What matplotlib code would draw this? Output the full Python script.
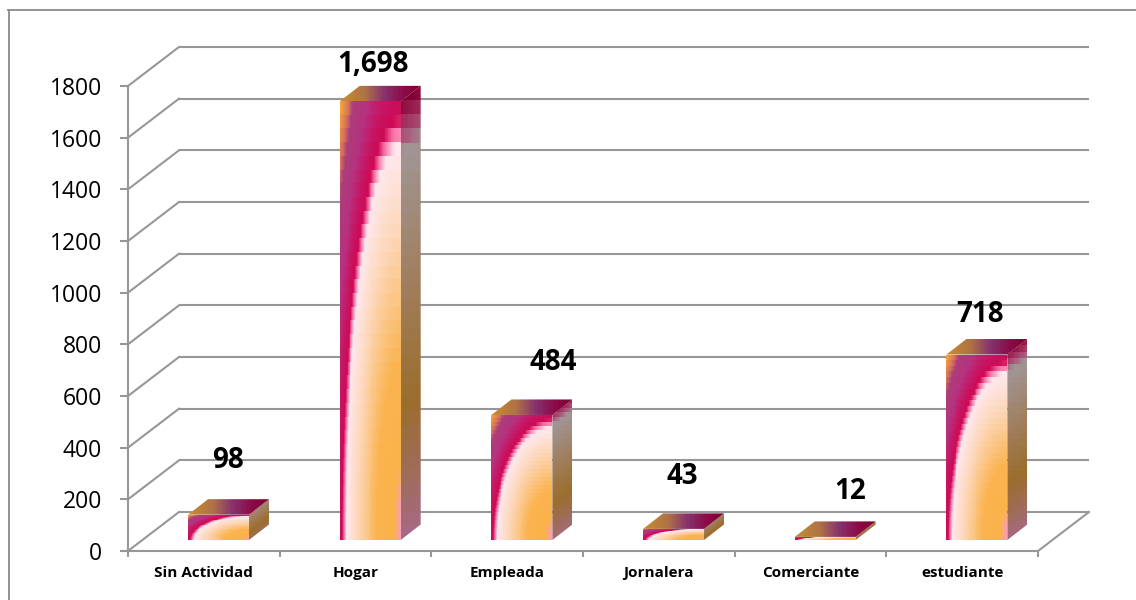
import numpy as np
import matplotlib
matplotlib.use('Agg')
import matplotlib.pyplot as plt
from matplotlib.colors import LinearSegmentedColormap
from matplotlib.lines import Line2D
from matplotlib.patches import Polygon
from matplotlib.transforms import Affine2D, IdentityTransform

categories = ['Sin Actividad', 'Hogar', 'Empleada', 'Jornalera', 'Comerciante', 'estudiante']
values = [98, 1698, 484, 43, 12, 718]
y_ticks = [0, 200, 400, 600, 800, 1000, 1200, 1400, 1600, 1800]

# pixel offsets of the value labels from the front top centre of each bar
label_dx = [9, 3, 31, 9, 25, 3]
label_dy = [54, 37, 52, 52, 45, 40]

FONT = 'Open Sans'
GRID = '#979797'
BAR_W = 0.402
FLOOR = (51, 39)      # depth of the floor in px
BAR_POS = (14.7, 11)  # bar front, in from the axis
BAR_DEPTH = (20, 15.5)
ROWS = 32
PINK = np.array([250, 160, 180]) / 255


def make_cmap(stops):
    return LinearSegmentedColormap.from_list(
        'c', [(p, tuple(c / 255 for c in col)) for p, col in stops], N=512)


front_cmap = make_cmap([(0, (250, 178, 70)), (0.28, (250, 180, 80)), (0.5, (253, 215, 185)),
                        (0.64, (255, 232, 238)), (0.665, (250, 120, 170)), (0.69, (205, 10, 85)),
                        (0.74, (198, 22, 100)), (0.81, (182, 50, 128)), (0.9, (172, 62, 122)),
                        (0.94, (215, 115, 90)), (1, (245, 165, 60))])
side_cmap = make_cmap([(0, (168, 105, 135)), (0.1, (160, 108, 100)), (0.3, (155, 110, 45)),
                       (0.55, (160, 125, 90)), (0.88, (160, 150, 150)), (0.91, (170, 90, 125)),
                       (0.95, (160, 45, 90)), (1, (130, 0, 50))])
top_cmap = make_cmap([(0, (200, 140, 50)), (0.3, (175, 115, 70)), (0.55, (135, 50, 110)),
                      (0.8, (140, 10, 70)), (1, (125, 0, 50))])


def draw_surface(ax, rgb, pts):
    # image over the bounding box of pts (display px), clipped to the polygon
    x0, y0 = pts.min(axis=0)
    x1, y1 = pts.max(axis=0)
    im = ax.imshow(rgb, extent=(x0, x1, y0, y1), transform=IdentityTransform(),
                   aspect='auto', interpolation='nearest', origin='upper', zorder=3)
    im.set_clip_box(None)
    im.set_clip_path(Polygon(pts, closed=True, transform=IdentityTransform()))


def draw_bar(ax, i, value):
    px = ax.transData.transform
    left = px((i + 0.5 - BAR_W / 2, 0)) + BAR_POS
    right = px((i + 0.5 + BAR_W / 2, 0)) + BAR_POS
    top_y = px((0, value))[1] + BAR_POS[1]
    d = np.array(BAR_DEPTH)

    # front: elliptical gradient out of the bottom right corner, in coarse rows
    rows = np.linspace(1, 0, ROWS)[:, None]
    cols = np.linspace(0, 1, ROWS * 2)[None, :]
    r = np.sqrt((1 - cols) ** 2 + rows ** 2) / np.sqrt(2)
    rgb = front_cmap(r)[..., :3]
    # pink glow in the bottom right corner
    glow = np.clip((cols - 0.9) / 0.1, 0, 1) * np.clip((0.15 - rows) / 0.08, 0, 1)
    rgb = rgb * (1 - glow[..., None]) + PINK * glow[..., None]
    bl, br = left, right
    tl, tr = np.array([left[0], top_y]), np.array([right[0], top_y])
    draw_surface(ax, rgb, np.array([bl, br, tr, tl]))

    # side
    box_h = top_y + d[1] - bl[1]
    vmax = 1 if value > 200 else 0.85
    v = np.linspace(1, 0, ROWS)[:, None] * vmax
    u = np.linspace(0, 1, 12)[None, :]
    skew = (u - 0.5) * (d[1] / box_h) * 0.8
    draw_surface(ax, side_cmap(np.clip(v - skew, 0, 1))[..., :3],
                 np.array([br, br + d, tr + d, tr]))

    # top
    t = np.linspace(0, 1, 64)[None, :] * np.ones((8, 1))
    draw_surface(ax, top_cmap(t)[..., :3], np.array([tl, tr, tr + d, tl + d]))


fig = plt.figure(figsize=(11.36, 6), dpi=100, facecolor='white')
ax = fig.add_axes([128 / 1136, 49 / 600, 910 / 1136, 465 / 600])
ax.set_xlim(0, len(categories))
ax.set_ylim(0, 1800)
ax.autoscale(False)
ax.patch.set_alpha(0)

for side in ['top', 'right']:
    ax.spines[side].set_visible(False)
for side in ['left', 'bottom']:
    ax.spines[side].set_color(GRID)
    ax.spines[side].set_linewidth(1.5)

ax.set_yticks(y_ticks)
ax.set_yticklabels([str(v) for v in y_ticks], fontsize=16.5, family=FONT, color='black')
ax.tick_params(axis='y', length=5.8, width=1.5, color=GRID, pad=13)
ax.set_xticks(range(len(categories) + 1))
ax.set_xticklabels([])
ax.set_xticks(np.arange(len(categories)) + 0.5, minor=True)
ax.set_xticklabels(categories, minor=True, fontsize=11, fontweight='bold', family=FONT)
ax.tick_params(axis='x', which='major', length=4.5, width=1.5, color=GRID)
ax.tick_params(axis='x', which='minor', length=0, pad=11)

# back wall grid lines and the diagonals that run to the axis
back = ax.transData + Affine2D().translate(*FLOOR)
for v in y_ticks:
    ax.plot([0, len(categories)], [v, v], color=GRID, lw=1.5, transform=back,
            clip_on=False, zorder=1, solid_capstyle='butt')
    start = ax.transData.transform((0, v))
    ax.add_line(Line2D([start[0], start[0] + FLOOR[0]], [start[1], start[1] + FLOOR[1]],
                       color=GRID, lw=1.5, transform=IdentityTransform(), clip_on=False, zorder=1))
end = ax.transData.transform((len(categories), 0))
ax.add_line(Line2D([end[0], end[0] + FLOOR[0]], [end[1], end[1] + FLOOR[1]],
                   color=GRID, lw=1.5, transform=IdentityTransform(), clip_on=False, zorder=1))

for i, value in enumerate(values):
    draw_bar(ax, i, value)

bar_front = ax.transData + Affine2D().translate(*BAR_POS)
for i, value in enumerate(values):
    ax.annotate(f'{value:,}', xy=(i + 0.5, value), xycoords=bar_front,
                xytext=(label_dx[i], label_dy[i]), textcoords='offset pixels',
                ha='center', va='center', fontsize=20, fontweight='bold',
                family=FONT, color='black', zorder=5)

# chart border, only top and left fall inside the picture
fig.add_artist(Line2D([8.5 / 1136, 8.5 / 1136], [0, 590 / 600], color='#8a8a8a', lw=1.3))
fig.add_artist(Line2D([8 / 1136, 1], [590 / 600, 590 / 600], color='#8a8a8a', lw=1.3))

fig.savefig('out.png', dpi=100)
